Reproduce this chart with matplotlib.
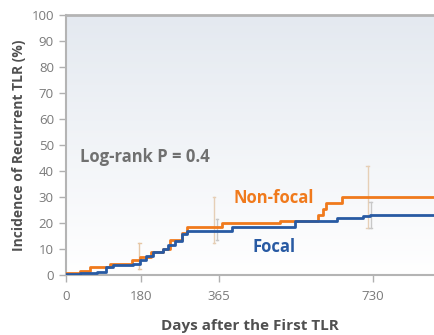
import numpy as np
import matplotlib
matplotlib.use("Agg")
from matplotlib import pyplot as plt

plt.rcParams['font.family'] = ['Open Sans', 'DejaVu Sans']

# cumulative incidence steps (days, %)
nonfocal_days = [0, 34, 58, 105, 157, 177, 204, 232, 248, 276, 288, 371, 510, 600, 612, 619, 656, 900]
nonfocal_pct = [0.7, 1.5, 3.0, 4.1, 5.8, 7.0, 9.0, 9.9, 13.5, 16.0, 18.6, 19.9, 21.0, 23.0, 25.3, 27.6, 29.9, 29.9]

focal_days = [0, 34, 74, 97, 113, 161, 177, 192, 208, 232, 244, 260, 276, 288, 395, 545, 644, 707, 724, 900]
focal_pct = [0.4, 0.8, 1.3, 3.0, 3.8, 4.2, 5.8, 7.2, 9.0, 9.9, 11.5, 13.0, 15.9, 17.0, 18.5, 20.9, 21.8, 22.7, 23.0, 23.0]

# confidence intervals drawn as light vertical bars
ci_days = [175, 353, 360, 718, 725]
ci_low = [2.5, 12.5, 13.5, 18.0, 18.0]
ci_high = [12.5, 30.0, 21.5, 42.0, 28.0]
ci_colors = ['#e6c7a6', '#e6cfb6', '#c8c8c8', '#e6cfb6', '#c8c8c8']

xticks = [0, 180, 365, 730]
yticks = list(range(0, 101, 10))

orange = '#f07a1c'
blue = '#285aa3'

fig = plt.figure(figsize=(4.35, 3.35), dpi=100)
ax = fig.add_axes([0.151, 0.179, 0.849, 0.775])

# soft blue-gray to white background, top row first
grad = np.linspace(0, 1, 256).reshape(-1, 1)
top = np.array([0.894, 0.914, 0.941])
bottom = np.array([1.0, 1.0, 1.0])
img = top[None, None, :] * (1 - grad[:, :, None]) + bottom[None, None, :] * grad[:, :, None]
ax.imshow(img, extent=[0, 878, 0, 100], origin='upper', aspect='auto', zorder=0)
ax.set_xlim(0, 878)
ax.set_ylim(0, 100)

for d, lo, hi, c in zip(ci_days, ci_low, ci_high, ci_colors):
    ax.plot([d, d], [lo, hi], color=c, lw=1.0, zorder=1)
    ax.plot([d - 3, d + 3], [lo, lo], color=c, lw=1.0, zorder=1)
    ax.plot([d - 3, d + 3], [hi, hi], color=c, lw=1.0, zorder=1)

ax.step(nonfocal_days, nonfocal_pct, where='post', color=orange, lw=2.0, zorder=3)
ax.step(focal_days, focal_pct, where='post', color=blue, lw=2.0, zorder=4)

ax.text(35, 45.5, 'Log-rank P = 0.4', fontsize=12, fontweight='bold', color='#707070',
        va='center', ha='left')
ax.text(398, 29.6, 'Non-focal', fontsize=12, fontweight='bold', color=orange,
        va='center', ha='left')
ax.text(443, 10.8, 'Focal', fontsize=12, fontweight='bold', color=blue,
        va='center', ha='left')

ax.spines['right'].set_visible(False)
for side in ['left', 'bottom', 'top']:
    ax.spines[side].set_color('#b4b4b4')
    ax.spines[side].set_linewidth(1.5)
ax.spines['top'].set_linewidth(2.0)

ax.set_xticks(xticks)
ax.set_yticks(yticks)
ax.tick_params(axis='both', colors='#b0b0b0', labelcolor='#7a7a7a', labelsize=9.5,
               length=5, width=1.0)
ax.tick_params(axis='x', pad=6)

ax.set_xlabel('Days after the First TLR', fontsize=11, fontweight='bold', color='#505050',
              labelpad=11)
ax.set_ylabel('Incidence of Recurrent TLR (%)', fontsize=10, fontweight='bold',
              color='#505050', labelpad=4)

fig.savefig('out.png', dpi=100)
